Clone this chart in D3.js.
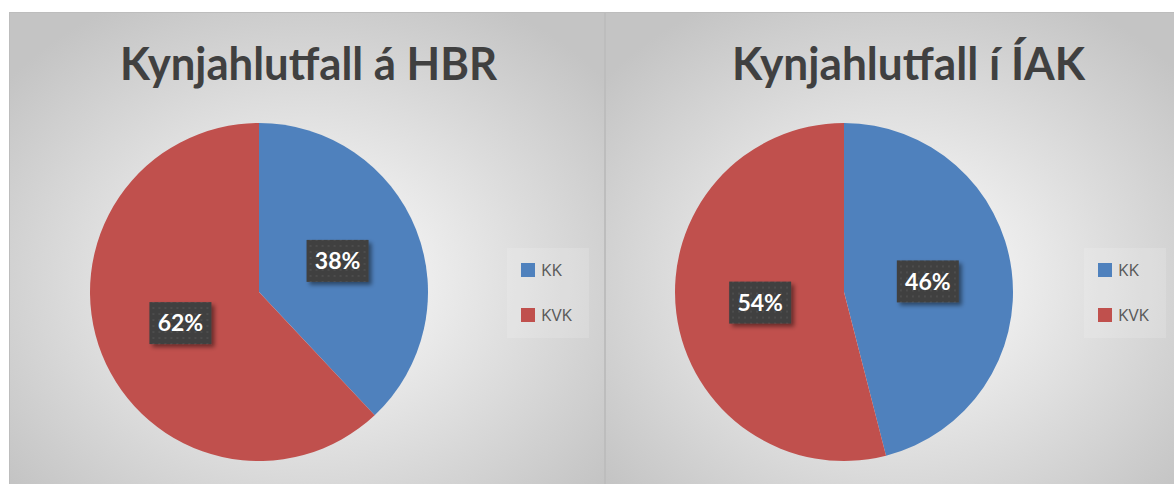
<!DOCTYPE html>
<html>
<head>
<meta charset="utf-8">
<script src="https://cdn.jsdelivr.net/npm/d3@7"></script>
<style>
  body { margin: 0; background: #fff; }
  svg { display: block; }
</style>
</head>
<body>
<svg id="chart"></svg>
<script>
// Chart data
const categories = ["KK", "KVK"];
const hbrValues = [38, 62];
const iakValues = [46, 54];
const titles = ["Kynjahlutfall á HBR", "Kynjahlutfall í ÍAK"];

const width = 1174, height = 484;
const color = d3.scaleOrdinal().domain(categories).range(["#4f81bd", "#c0504d"]);

const svg = d3.select("#chart").attr("width", width).attr("height", height);
const defs = svg.append("defs");

// Background gradient for each panel
const grad = defs.append("radialGradient")
    .attr("id", "bg")
    .attr("cx", "50%").attr("cy", "55%").attr("r", "65%");
grad.append("stop").attr("offset", "0%").attr("stop-color", "#ffffff");
grad.append("stop").attr("offset", "100%").attr("stop-color", "#c4c4c4");

// Dotted pattern for the data labels
const pat = defs.append("pattern")
    .attr("id", "dots")
    .attr("width", 6).attr("height", 6)
    .attr("patternUnits", "userSpaceOnUse");
pat.append("rect").attr("width", 6).attr("height", 6).attr("fill", "#3f3f3f");
pat.append("rect").attr("x", 2).attr("y", 2).attr("width", 2).attr("height", 2).attr("fill", "#4d4d4d");

const shadow = defs.append("filter").attr("id", "shadow")
    .attr("x", "-20%").attr("y", "-20%").attr("width", "150%").attr("height", "150%");
shadow.append("feDropShadow")
    .attr("dx", 3).attr("dy", 3).attr("stdDeviation", 2)
    .attr("flood-color", "#000").attr("flood-opacity", 0.45);

const panels = [
    { x: 9, w: 595, title: titles[0], titleX: 308.5, titleLen: 377, values: hbrValues, cx: 259, legendX: 521 },
    { x: 605, w: 580, title: titles[1], titleX: 908.5, titleLen: 353, values: iakValues, cx: 844, legendX: 1098 }
];

const pie = d3.pie().sort(null).value(d => d.value);
const radius = 169;
const arc = d3.arc().innerRadius(0).outerRadius(radius);
const labelArc = d3.arc().innerRadius(radius * 0.5).outerRadius(radius * 0.5);

panels.forEach(p => {
    const g = svg.append("g");

    g.append("rect")
        .attr("x", p.x + 0.5).attr("y", 12.5)
        .attr("width", p.w).attr("height", height)
        .attr("fill", "url(#bg)")
        .attr("stroke", "#bdbdbd");

    // Title
    g.append("text")
        .attr("x", p.titleX)
        .attr("y", 80)
        .attr("text-anchor", "middle")
        .attr("font-family", "Lato, 'Open Sans', sans-serif")
        .attr("font-weight", "bold")
        .attr("font-size", 45)
        .attr("fill", "#404040")
        .attr("textLength", p.titleLen)
        .attr("lengthAdjust", "spacingAndGlyphs")
        .text(p.title);

    const data = categories.map((c, i) => ({ key: c, value: p.values[i] }));
    const arcs = pie(data);

    const pg = g.append("g").attr("transform", `translate(${p.cx},292)`);
    pg.selectAll("path")
        .data(arcs)
        .enter().append("path")
        .attr("d", arc)
        .attr("fill", d => color(d.data.key));

    // Data labels
    const lab = pg.selectAll(".lab")
        .data(arcs)
        .enter().append("g")
        .attr("class", "lab")
        .attr("transform", d => `translate(${labelArc.centroid(d)})`);
    lab.append("rect")
        .attr("x", -31).attr("y", -21)
        .attr("width", 62).attr("height", 42)
        .attr("fill", "url(#dots)")
        .attr("filter", "url(#shadow)");
    lab.append("text")
        .attr("text-anchor", "middle")
        .attr("dy", "0.36em")
        .attr("font-family", "Lato, 'Open Sans', sans-serif")
        .attr("font-weight", "bold")
        .attr("font-size", 23)
        .attr("fill", "#ffffff")
        .text(d => d.data.value + "%");

    // Legend
    const lg = g.append("g");
    lg.append("rect")
        .attr("x", p.legendX - 14).attr("y", 248)
        .attr("width", 82).attr("height", 90)
        .attr("fill", "#ffffff").attr("fill-opacity", 0.15);
    categories.forEach((c, i) => {
        lg.append("rect")
            .attr("x", p.legendX).attr("y", 263 + i * 45)
            .attr("width", 14).attr("height", 14)
            .attr("fill", color(c));
        lg.append("text")
            .attr("x", p.legendX + 20).attr("y", 276 + i * 45)
            .attr("font-family", "'Open Sans', sans-serif")
            .attr("font-size", 17)
            .attr("fill", "#595959")
            .text(c);
    });
});
</script>
</body>
</html>
